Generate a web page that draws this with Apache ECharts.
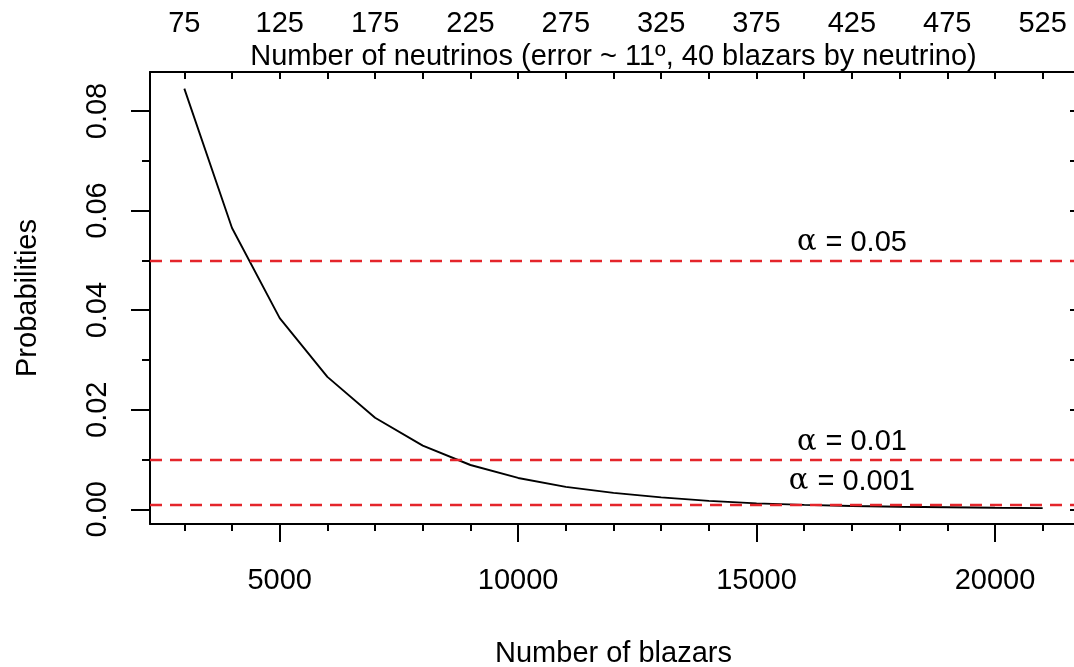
<!DOCTYPE html>
<html>
<head>
<meta charset="utf-8">
<script src="https://cdn.jsdelivr.net/npm/echarts@6/dist/echarts.min.js"></script>
<style>
  html, body { margin: 0; padding: 0; background: #ffffff; }
  #chart { width: 1074px; height: 667px; }
</style>
</head>
<body>
<div id="chart"></div>
<script>
// Probability of the observed association versus catalogue size
const blazars = [3000, 4000, 5000, 6000, 7000, 8000, 9000, 10000, 11000, 12000,
                 13000, 14000, 15000, 16000, 17000, 18000, 19000, 20000, 21000];
const probabilities = [0.0845, 0.0565, 0.0384, 0.0266, 0.0184, 0.0128, 0.0089, 0.0063, 0.0045, 0.0033,
                       0.0024, 0.0017, 0.0012, 0.0009, 0.00066, 0.0005, 0.0004, 0.0003, 0.00024];

// Significance thresholds drawn as dashed lines
const alphaLevels = [0.05, 0.01, 0.001];
const alphaText = ['0.05', '0.01', '0.001'];
const alphaLabelAt = 17000;

// Axis ticks
const blazarMajorTicks = [5000, 10000, 15000, 20000];
const blazarMinorTicks = [3000, 4000, 5000, 6000, 7000, 8000, 9000, 10000, 11000, 12000,
                          13000, 14000, 15000, 16000, 17000, 18000, 19000, 20000, 21000];
const blazarsPerNeutrino = 40;
const neutrinoTicks = [75, 100, 125, 150, 175, 200, 225, 250, 275, 300,
                       325, 350, 375, 400, 425, 450, 475, 500, 525];
const neutrinoLabels = [75, 125, 175, 225, 275, 325, 375, 425, 475, 525];
const probMajorTicks = [0, 0.02, 0.04, 0.06, 0.08];
const probMinorTicks = [0.01, 0.03, 0.05, 0.07];
const probRightTicks = [0, 0.01, 0.02, 0.03, 0.04, 0.05, 0.06, 0.07, 0.08];

// Plot ranges
const xMin = 2280, xMax = 21720;
const yMin = -0.00295, yMax = 0.08783;

const FONT = "'Liberation Sans', Arial, Helvetica, sans-serif";
const FS = 29;
const INK = '#000000';
const RED = '#e4252b';

const frameLine = { show: true, onZero: false, lineStyle: { color: INK, width: 2 } };
const noLine = { show: false, onZero: false };

const chart = echarts.init(document.getElementById('chart'), null, { renderer: 'canvas' });

const option = {
  animation: false,
  backgroundColor: '#ffffff',
  grid: { left: 150, top: 72, right: -3, bottom: 143, containLabel: false, outerBoundsMode: 'none' },
  xAxis: [
    { // bottom: number of blazars, labelled ticks
      type: 'value', position: 'bottom', min: xMin, max: xMax,
      name: 'Number of blazars', nameLocation: 'middle', nameGap: 115, nameMoveOverlap: false,
      nameTextStyle: { fontFamily: FONT, fontSize: FS, color: INK },
      axisLine: frameLine,
      axisTick: { show: true, customValues: blazarMajorTicks, length: 18, lineStyle: { color: INK, width: 2 } },
      axisLabel: { show: true, customValues: blazarMajorTicks, margin: 42,
                   fontFamily: FONT, fontSize: FS, color: INK, formatter: v => String(v) },
      splitLine: { show: false }
    },
    { // bottom: short ticks every 1000 blazars
      type: 'value', position: 'bottom', min: xMin, max: xMax,
      axisLine: noLine,
      axisTick: { show: true, customValues: blazarMinorTicks, length: 7, lineStyle: { color: INK, width: 2 } },
      axisLabel: { show: false },
      splitLine: { show: false }
    },
    { // top: equivalent number of neutrinos
      type: 'value', position: 'top',
      min: xMin / blazarsPerNeutrino, max: xMax / blazarsPerNeutrino,
      name: 'Number of neutrinos (error ~ 11\u00ba, 40 blazars by neutrino)',
      nameLocation: 'middle', nameGap: 1, nameMoveOverlap: false,
      nameTextStyle: { fontFamily: FONT, fontSize: FS, color: INK },
      axisLine: frameLine,
      axisTick: { show: true, inside: true, customValues: neutrinoTicks, length: 7, lineStyle: { color: INK, width: 2 } },
      axisLabel: { show: true, customValues: neutrinoLabels, margin: 34,
                   fontFamily: FONT, fontSize: FS, color: INK, formatter: v => String(Math.round(v)) },
      splitLine: { show: false }
    }
  ],
  yAxis: [
    { // left: probabilities, labelled ticks
      type: 'value', position: 'left', min: yMin, max: yMax,
      name: 'Probabilities', nameLocation: 'middle', nameGap: 108, nameMoveOverlap: false,
      nameTextStyle: { fontFamily: FONT, fontSize: FS, color: INK },
      axisLine: frameLine,
      axisTick: { show: true, customValues: probMajorTicks, length: 19, lineStyle: { color: INK, width: 2 } },
      axisLabel: { show: true, customValues: probMajorTicks, rotate: 90, margin: 38,
                   fontFamily: FONT, fontSize: FS, color: INK, formatter: v => v.toFixed(2) },
      splitLine: { show: false }
    },
    { // left: short intermediate ticks
      type: 'value', position: 'left', min: yMin, max: yMax,
      axisLine: noLine,
      axisTick: { show: true, customValues: probMinorTicks, length: 8, lineStyle: { color: INK, width: 2 } },
      axisLabel: { show: false },
      splitLine: { show: false }
    },
    { // right: inner ticks every 0.01
      type: 'value', position: 'right', min: yMin, max: yMax,
      axisLine: noLine,
      axisTick: { show: true, inside: true, customValues: probRightTicks, length: 7, lineStyle: { color: INK, width: 2 } },
      axisLabel: { show: false },
      splitLine: { show: false }
    }
  ],
  series: [
    {
      type: 'line',
      xAxisIndex: 0, yAxisIndex: 0,
      data: blazars.map((b, i) => [b, probabilities[i]]),
      symbol: 'none',
      lineStyle: { color: INK, width: 1.9 },
      markLine: {
        silent: true,
        precision: 6,
        symbol: ['none', 'none'],
        label: { show: false },
        lineStyle: { color: RED, width: 2.4, type: [12, 8] },
        data: alphaLevels.map(a => ({ yAxis: a }))
      },
      z: 3
    },
    {
      type: 'scatter',
      xAxisIndex: 0, yAxisIndex: 0,
      symbolSize: 0,
      silent: true,
      itemStyle: { color: INK, opacity: 1 },
      data: alphaLevels.map((a, i) => ({
        value: [alphaLabelAt, a],
        name: alphaText[i],
        label: { distance: i === 2 ? 8 : 3 }
      })),
      label: {
        show: true,
        position: 'top',
        color: INK,
        opacity: 1,
        formatter: p => '{g|\u03b1}{t|= ' + p.name + '}',
        rich: {
          g: { fontFamily: "'DejaVu Serif', 'Liberation Serif', serif", fontSize: 29, color: INK, padding: [0, 9, 0, 0] },
          t: { fontFamily: FONT, fontSize: FS, color: INK }
        }
      }
    }
  ]
};

chart.setOption(option);
</script>
</body>
</html>
